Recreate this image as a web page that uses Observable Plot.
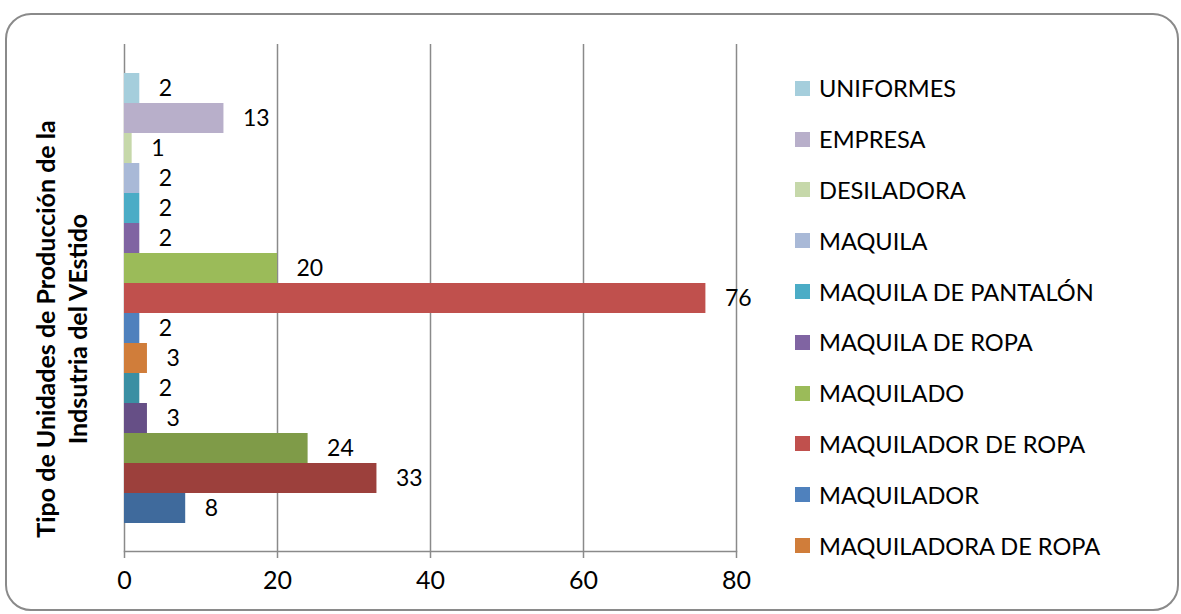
<!DOCTYPE html>
<html>
<head>
<meta charset="utf-8">
<script src="https://cdn.jsdelivr.net/npm/d3@7"></script>
<script src="https://cdn.jsdelivr.net/npm/@observablehq/plot@0.6"></script>
<style>
  html, body { margin: 0; padding: 0; background: #fff; }
  #wrap { position: relative; width: 1181px; height: 614px; overflow: hidden; font-family: Lato, "Open Sans", sans-serif; }
  #border { position: absolute; left: 5px; top: 13px; width: 1174px; height: 598px; border: 2px solid #8a8a8a; border-radius: 26px; box-sizing: border-box; }
  #chart { position: absolute; left: 0; top: 0; }
  #legend { position: absolute; left: 795px; top: 63px; }
  .item { display: flex; align-items: center; height: 50.8px; font-size: 23.6px; color: #000; white-space: nowrap; }
  .sw { width: 15px; height: 15px; margin-right: 9px; flex: none; }
</style>
</head>
<body>
<div id="wrap">
  <div id="border"></div>
  <div id="chart"></div>
  <div id="legend"></div>
</div>
<script>
// Series (top to bottom as drawn)
const names = ["UNIFORMES", "EMPRESA", "DESILADORA", "MAQUILA", "MAQUILA DE PANTALÓN", "MAQUILA DE ROPA", "MAQUILADO", "MAQUILADOR DE ROPA", "MAQUILADOR", "MAQUILADORA DE ROPA", "SERIE 11", "SERIE 12", "SERIE 13", "SERIE 14", "SERIE 15"];
const values = [2, 13, 1, 2, 2, 2, 20, 76, 2, 3, 2, 3, 24, 33, 8];
const colors = ["#A5CEDC", "#B8AFCA", "#C6D8AA", "#A9B9D7", "#4BACC6", "#8064A2", "#9BBB59", "#C0504D", "#4F81BD", "#D07D3A", "#3A8FA3", "#664F86", "#7F9B48", "#9C403C", "#3F6A9C"];
const xTicks = [0, 20, 40, 60, 80];
const legendCount = 10; // legend in the original is truncated to 10 entries
const axisTitle = "Tipo de Unidades de Producción de la\nIndsutria del VEstido";

const data = names.map((name, i) => ({name, value: values[i]}));

const chart = Plot.plot({
  width: 780,
  height: 614,
  marginLeft: 124,
  marginRight: 44,
  marginTop: 44,
  marginBottom: 63,
  style: {fontFamily: "Lato, 'Open Sans', sans-serif", fontSize: "21px", color: "#000", background: "transparent"},
  x: {domain: [0, 80], ticks: xTicks, label: null},
  y: {domain: names, padding: 0, insetTop: 23, insetBottom: 23, axis: null},
  color: {domain: names, range: colors},
  marks: [
    Plot.ruleX(xTicks, {stroke: "#8a8a8a", strokeWidth: 1.5}),
    Plot.frame({anchor: "bottom", stroke: "#8a8a8a", strokeWidth: 1.5}),
    Plot.barX(data, {x: "value", y: "name", fill: "name"}),
    Plot.text(data, {x: "value", y: "name", text: d => String(d.value), textAnchor: "start", dx: 19, fontSize: 23, fill: "#000"}),
    Plot.axisX({ticks: xTicks, tickSize: 7, tickPadding: 13, stroke: "#8a8a8a", strokeWidth: 1.5, fill: "#000", fontSize: 25, label: null}),
    Plot.text([axisTitle], {frameAnchor: "left", text: d => d, rotate: -90, dx: -64, dy: 31, fontWeight: "bold", fontSize: 25, lineHeight: 1.3, lineAnchor: "middle", textAnchor: "middle", fill: "#000"})
  ]
});
document.getElementById("chart").appendChild(chart);

const legend = document.getElementById("legend");
names.slice(0, legendCount).forEach((n, i) => {
  const it = document.createElement("div");
  it.className = "item";
  const sw = document.createElement("span");
  sw.className = "sw";
  sw.style.background = colors[i];
  const tx = document.createElement("span");
  tx.textContent = n;
  it.appendChild(sw);
  it.appendChild(tx);
  legend.appendChild(it);
});
</script>
</body>
</html>
